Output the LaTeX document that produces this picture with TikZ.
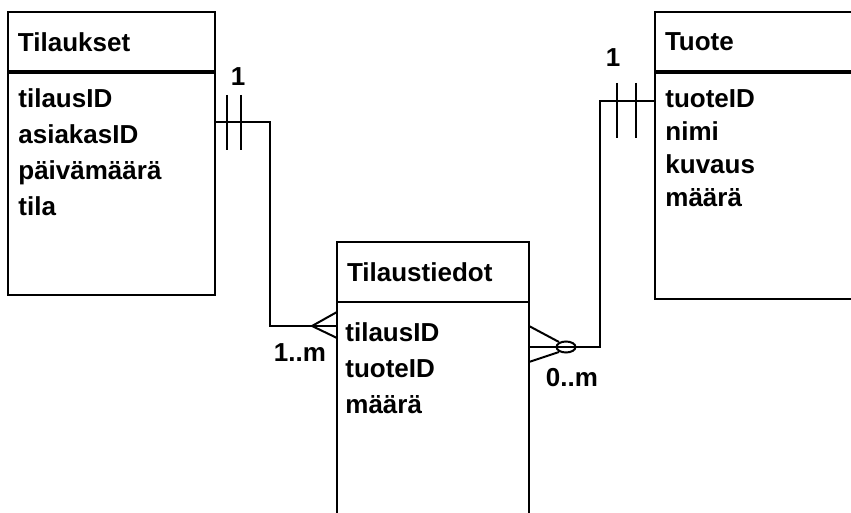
\documentclass[tikz,border=0pt]{standalone}
\usepackage{fontspec}
\setmainfont{Liberation Sans}
\usetikzlibrary{positioning,calc}
\tikzset{
  enthead/.style={draw, line width=1pt, outer sep=0pt, inner xsep=5pt,
    text width=#1, minimum height=30pt, align=left, anchor=north west,
    font=\bfseries\fontsize{13}{16}\selectfont},
  entbody/.style={draw, line width=1pt, outer sep=0pt, inner sep=0pt,
    minimum width=#1},
  attrs/.style={inner sep=0pt, align=left,
    font=\bfseries\fontsize{13}{#1}\selectfont},
  relline/.style={line width=1pt},
  mult/.style={font=\bfseries\fontsize{13}{16}\selectfont},
}

\begin{document}
\begin{tikzpicture}[x=0.5pt, y=-0.5pt]
  \useasboundingbox (0,0) rectangle (851,513);
  % entities
  \node[enthead=93.5pt] (tkhead) at (8,12) {Tilaukset};
  \node[entbody=103.5pt, minimum height=111.5pt, below=0pt of tkhead] (tkbody) {};
  \node[attrs=18pt, below right=8.25pt and 5pt of tkbody.north west] (tkattr)
    {tilausID\\asiakasID\\päivämäärä\\tila};
  \draw[line width=2pt] (tkhead.south west) -- (tkhead.south east);

  \node[enthead=86pt] (tdhead) at (337,242) {Tilaustiedot};
  \node[entbody=96pt, minimum height=120pt, below=0pt of tdhead] (tdbody) {};
  \node[attrs=18pt, below right=10.25pt and 4pt of tdbody.north west] (tdattr)
    {tilausID\\tuoteID\\määrä};

  \node[enthead=95pt] (tuhead) at (655,12) {Tuote};
  \node[entbody=105pt, minimum height=113.5pt, below=0pt of tuhead] (tubody) {};
  \node[attrs=16.5pt, below right=8.75pt and 5pt of tubody.north west] (tuattr)
    {tuoteID\\nimi\\kuvaus\\määrä};
  \draw[line width=2pt] (tuhead.south west) -- (tuhead.south east);

  % Tilaukset 1 -- 1..m Tilaustiedot
  \coordinate (tkend) at ($(tkbody.north east)+(0,-25pt)$);
  \coordinate (tdend1) at ($(tdbody.north west)+(0,-12pt)$);
  \draw[relline] (tkend) -- ++(27.5pt,0) |- (tdend1);
  \draw[relline] ($(tkend)+(6pt,13.5pt)$) -- ($(tkend)+(6pt,-14pt)$)
    ($(tkend)+(13pt,13.5pt)$) -- ($(tkend)+(13pt,-14pt)$);
  \draw[relline] ($(tdend1)+(0,7pt)$) -- ($(tdend1)+(-12.5pt,0)$)
    -- ($(tdend1)+(0,-6pt)$);
  \node[mult] (one1) at (238,77) {1};
  \node[mult] (many1) at (300,353) {1..m};

  % Tuote 1 -- 0..m Tilaustiedot
  \coordinate (tdend2) at ($(tdbody.north east)+(0,-22.5pt)$);
  \coordinate (tuend) at ($(tubody.north west)+(0,-14.5pt)$);
  \draw[relline] (tdend2) -- ++(35.5pt,0) |- (tuend);
  \draw[relline] ($(tdend2)+(18.5pt,0)$) ellipse [x radius=4.75pt, y radius=2.75pt];
  \draw[relline] ($(tdend2)+(0,10.5pt)$) -- ($(tdend2)+(15pt,2.5pt)$)
    ($(tdend2)+(0,-7.5pt)$) -- ($(tdend2)+(15pt,-2.5pt)$);
  \draw[relline] ($(tuend)+(-19pt,9pt)$) -- ($(tuend)+(-19pt,-18.5pt)$)
    ($(tuend)+(-9.5pt,9pt)$) -- ($(tuend)+(-9.5pt,-18.5pt)$);
  \node[mult] (one2) at (613,58) {1};
  \node[mult] (many2) at (572,378) {0..m};
\end{tikzpicture}
\end{document}
